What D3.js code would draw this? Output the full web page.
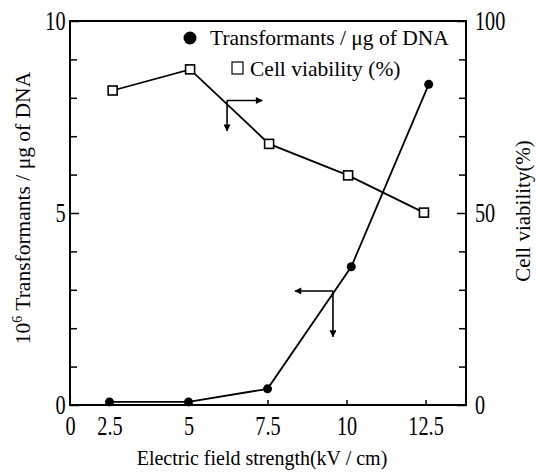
<!DOCTYPE html>
<html>
<head>
<meta charset="utf-8">
<script src="https://d3js.org/d3.v7.min.js"></script>
<style>
  body { margin: 0; background: #fff; }
  text { font-family: "Liberation Serif", "DejaVu Serif", serif; fill: #000; }
</style>
</head>
<body>
<svg width="536" height="472"></svg>
<script>
// values
var fieldT = [2.5, 5, 7.5, 10.15, 12.6];
var transformants = [0.08, 0.08, 0.42, 3.6, 8.35];   // x10^6 per ug DNA
var fieldV = [2.6, 5.05, 7.55, 10.05, 12.45];
var viability = [81.9, 87.4, 68, 59.8, 50.1];         // %
var xTicks = [0, 2.5, 5, 7.5, 10, 12.5];
var yLeftTicks = [0, 1, 2, 3, 4, 5, 6, 7, 8, 9, 10];
var yRightTicks = [0, 10, 20, 30, 40, 50, 60, 70, 80, 90, 100];

var svg = d3.select("svg");

// plot box (note: "top" is reserved on window, so use other names)
var boxL = 70, boxR = 466, boxT = 21, boxB = 405;

// broken axis: 0 sits at the corner, 2.5 onwards is linear
var x = d3.scaleLinear()
    .domain([0, 2.5, 13.78])
    .range([boxL, 109.5, boxR]);
var yL = d3.scaleLinear().domain([0, 10]).range([boxB, boxT]);
var yR = d3.scaleLinear().domain([0, 100]).range([boxB, boxT]);

svg.append("defs").append("marker")
    .attr("id", "head")
    .attr("viewBox", "0 0 10 10")
    .attr("refX", 9)
    .attr("refY", 5)
    .attr("markerUnits", "userSpaceOnUse")
    .attr("markerWidth", 9)
    .attr("markerHeight", 7)
    .attr("orient", "auto")
    .append("path")
    .attr("d", "M0,0 L10,5 L0,10 Z")
    .attr("fill", "#000");

// frame
svg.append("rect")
    .attr("x", boxL).attr("y", boxT)
    .attr("width", boxR - boxL).attr("height", boxB - boxT)
    .attr("fill", "none").attr("stroke", "#000").attr("stroke-width", 2);

var gx = svg.append("g")
    .attr("transform", "translate(0," + boxB + ")")
    .call(d3.axisBottom(x).tickValues(xTicks).tickSize(-5).tickSizeOuter(0).tickPadding(11)
        .tickFormat(function (d) { return d; }));

var gl = svg.append("g")
    .attr("transform", "translate(" + boxL + ",0)")
    .call(d3.axisLeft(yL).tickValues(yLeftTicks).tickSize(-7).tickSizeOuter(0).tickPadding(6)
        .tickFormat(function (d) { return d % 5 === 0 ? d : ""; }));

var gr = svg.append("g")
    .attr("transform", "translate(" + boxR + ",0)")
    .call(d3.axisRight(yR).tickValues(yRightTicks).tickSize(-7).tickSizeOuter(0).tickPadding(12)
        .tickFormat(function (d) { return d % 50 === 0 ? d : ""; }));

[gx, gl, gr].forEach(function (g) {
    g.select(".domain").remove();
    g.selectAll(".tick line").attr("stroke", "#000").attr("stroke-width", 1.5);
    g.selectAll(".tick text")
        .style("font-family", "Liberation Serif")
        .attr("font-size", 27)
        .attr("transform", "scale(0.75,1)");
});
gx.selectAll(".tick line").filter(function (d) { return d === 0; }).remove();
gl.selectAll(".tick line").filter(function (d) { return d % 5 === 0; }).attr("x2", 9);
gr.selectAll(".tick line").filter(function (d) { return d % 50 === 0; }).attr("x2", -9);

// transformants line
var ptsT = fieldT.map(function (v, i) { return [x(v), yL(transformants[i])]; });
svg.append("path")
    .attr("d", d3.line()(ptsT))
    .attr("fill", "none").attr("stroke", "#000").attr("stroke-width", 1.8);
svg.selectAll(".dotT").data(ptsT).enter().append("circle")
    .attr("cx", function (d) { return d[0]; })
    .attr("cy", function (d) { return d[1]; })
    .attr("r", 4.5).attr("fill", "#000");

// viability line
var ptsV = fieldV.map(function (v, i) { return [x(v), yR(viability[i])]; });
svg.append("path")
    .attr("d", d3.line()(ptsV))
    .attr("fill", "none").attr("stroke", "#000").attr("stroke-width", 1.8);
svg.selectAll(".sqV").data(ptsV).enter().append("rect")
    .attr("x", function (d) { return d[0] - 4.5; })
    .attr("y", function (d) { return d[1] - 4.5; })
    .attr("width", 9).attr("height", 9)
    .attr("fill", "#fff").attr("stroke", "#000").attr("stroke-width", 1.6);

// axis pointers
function pointer(jx, jy, hx, vy) {
    svg.append("line")
        .attr("x1", jx).attr("y1", jy).attr("x2", hx).attr("y2", jy)
        .attr("stroke", "#000").attr("stroke-width", 1.6).attr("marker-end", "url(#head)");
    svg.append("line")
        .attr("x1", jx).attr("y1", jy).attr("x2", jx).attr("y2", vy)
        .attr("stroke", "#000").attr("stroke-width", 1.6).attr("marker-end", "url(#head)");
}
pointer(x(6.22), yR(79.3), x(7.33), yR(71.4));
pointer(x(9.57), yL(2.97), x(8.37), yL(1.78));

// legend
svg.append("circle").attr("cx", 190).attr("cy", 38).attr("r", 6.5).attr("fill", "#000");
svg.append("text").attr("x", 210).attr("y", 45).attr("font-size", 21.5)
    .text("Transformants / μg of DNA");
svg.append("rect").attr("x", 232).attr("y", 62).attr("width", 11).attr("height", 12)
    .attr("fill", "#fff").attr("stroke", "#000").attr("stroke-width", 1.2);
svg.append("text").attr("x", 250).attr("y", 76).attr("font-size", 21.5)
    .text("Cell viability (%)");

// axis titles
svg.append("text")
    .attr("x", 262).attr("y", 465)
    .attr("text-anchor", "middle").attr("font-size", 20)
    .text("Electric field strength(kV / cm)");

var lt = svg.append("text")
    .attr("transform", "translate(30,208) rotate(-90)")
    .attr("text-anchor", "middle").attr("font-size", 21.5);
lt.append("tspan").text("10");
lt.append("tspan").attr("dy", -8).attr("font-size", 14).text("6");
lt.append("tspan").attr("dy", 8).text(" Transformants / μg of DNA");

svg.append("text")
    .attr("transform", "translate(530,211) rotate(-90)")
    .attr("text-anchor", "middle").attr("font-size", 21)
    .text("Cell viability(%)");
</script>
</body>
</html>
